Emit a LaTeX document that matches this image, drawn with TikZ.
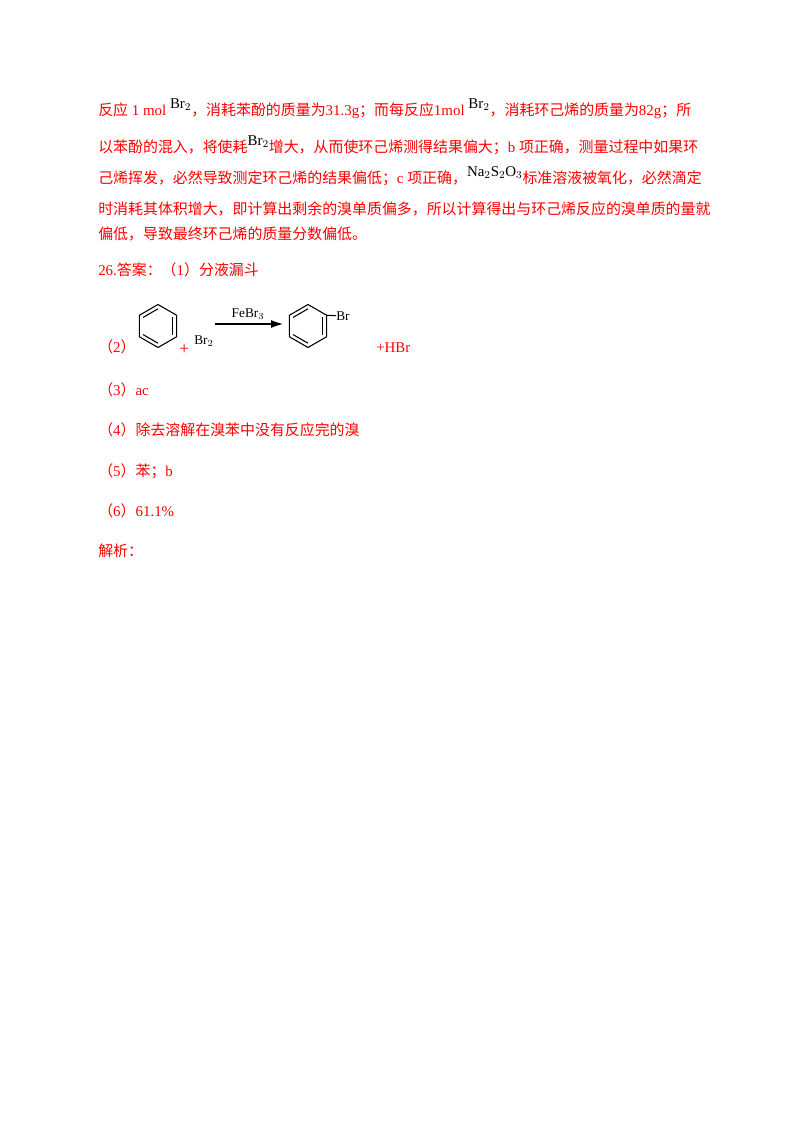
\documentclass[tikz,border=0pt]{standalone}
\usetikzlibrary{calc,arrows.meta}
\usepackage{fontspec}
\setmainfont{Liberation Serif}
\newfontfamily\cjk{Noto Sans CJK SC}
\begin{document}
\begin{tikzpicture}[x=0.75pt,y=-0.75pt,
  t/.style={anchor=base west,inner sep=0pt,text=red,font=\fontsize{11.2}{13}\selectfont},
  br/.style={anchor=base west,inner sep=0pt,text=black,font=\fontsize{10}{12}\selectfont},
  bond/.style={line width=0.8pt}]
\useasboundingbox (0,0) rectangle (800,1132);
\fill[white] (0,0) rectangle (800,1132);
\newcommand\zh[1]{{\cjk #1}}
\node[t] (l1) at (98,115) {\zh{反应} 1 mol \raisebox{5pt}{\textcolor{black}{Br$_2$}}\zh{，消耗苯酚的质量为}31.3g\zh{；而每反应}1mol \raisebox{5pt}{\textcolor{black}{Br$_2$}}\zh{，消耗环己烯的质量为}82g\zh{；所}};
\node[t] (l2) at (98,152) {\zh{以苯酚的混入，将使耗}\raisebox{5pt}{\textcolor{black}{Br$_2$}}\zh{增大，从而使环己烯测得结果偏大；}b \zh{项正确，测量过程中如果环}};
\node[t] (l3) at (98,183) {\zh{己烯挥发，必然导致测定环己烯的结果偏低；}c \zh{项正确，}\raisebox{5pt}{\textcolor{black}{Na$_2$S$_2$O$_3$}}\zh{标准溶液被氧化，必然滴定}};
\node[t] (l4) at (98,214) {\zh{时消耗其体积增大，即计算出剩余的溴单质偏多，所以计算得出与环己烯反应的溴单质的量就}};
\node[t] (l5) at (98,239) {\zh{偏低，导致最终环己烯的质量分数偏低。}};
\node[t] (a26) at (98,275) {26.\zh{答案：（}1\zh{）分液漏斗}};
\node[t] (a2) at (98,352) {\zh{（}2\zh{）}};
\node[t] (a3) at (98,395) {\zh{（}3\zh{）}ac};
\node[t] (a4) at (98,435) {\zh{（}4\zh{）除去溶解在溴苯中没有反应完的溴}};
\node[t] (a5) at (98,476) {\zh{（}5\zh{）苯；}b};
\node[t] (a6) at (98,516) {\zh{（}6\zh{）}61.1\%};
\node[t] (jx) at (98,556) {\zh{解析：}};
% benzene rings
\foreach \cx/\n in {158/A,308/B}{
  \foreach \i in {0,...,5}{\coordinate (\n\i) at ({\cx+21.5*cos(90+60*\i)},{326-21.5*sin(90+60*\i)});}
  \draw[bond] (\n0)--(\n1)--(\n2)--(\n3)--(\n4)--(\n5)--cycle;
  \foreach \a/\b in {0/1,2/3,4/5}{
    \draw[bond] ($(\cx,326)!0.8!(\n\a)$) -- ($(\cx,326)!0.8!(\n\b)$);}
}
\node[t,font=\fontsize{13}{14}\selectfont] (plus) at (179,354) {+};
\node[br] (br2) at (194,344) {Br$_2$};
\coordinate (ar1) at (215,324);
\coordinate (ar2) at (283,324);
\draw[bond,-{Latex[length=9pt,width=6pt]}] (ar1) -- (ar2);
\node[br,anchor=base] (fe) at (248,317) {FeBr$_3$};
\node[br] (brB) at (336,320) {Br};
\draw[bond] (B5) -- (brB.west);
\node[t] (hbr) at (376,352) {+HBr};
\end{tikzpicture}
\end{document}
